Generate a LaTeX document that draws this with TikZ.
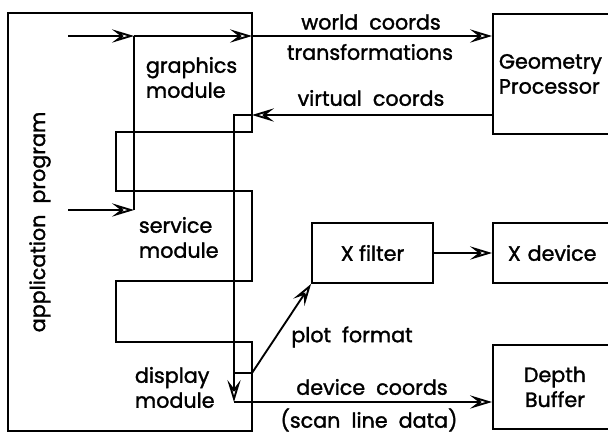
\documentclass[tikz,border=0pt]{standalone}
\usepackage{fontspec}
\setmainfont{Poppins}[FakeBold=1.5]
\usetikzlibrary{arrows.meta}
\tikzset{
  arrowtip/.tip={Stealth[open,length=16.5pt,width=10pt,inset=6.5pt,line width=1.4pt]},
  arr/.style={-arrowtip}
}
\begin{document}
\begin{tikzpicture}[x=0.75pt,y=-0.75pt,
  line width=1.4pt,
  txt/.style={font=\fontsize{15.5}{18.75}\selectfont, inner sep=0pt},
  box/.style={draw, line width=1.4pt, font=\fontsize{15.5}{18.75}\selectfont},
  modl/.style={txt, align=left, anchor=west}]
\clip (0,0) rectangle (608,433);
% application program outline
\coordinate (o1) at (252,13);
\coordinate (o2) at (8,13);
\coordinate (o3) at (8,431);
\coordinate (o4) at (252,431);
\coordinate (o5) at (252,342);
\coordinate (o6) at (116,342);
\coordinate (o7) at (116,281);
\coordinate (o8) at (252,281);
\coordinate (o9) at (252,191);
\coordinate (o10) at (116,191);
\coordinate (o11) at (116,132);
\coordinate (o12) at (252,132);
\draw (o1) -- (o2) -- (o3) -- (o4) -- (o5) -- (o6) -- (o7) -- (o8) -- (o9) -- (o10) -- (o11) -- (o12) -- cycle;
\node[txt, rotate=90] (app) at (40,222) {application\ \ program};
% inner line
\coordinate (i1) at (134,36);
\coordinate (i2) at (134,210);
\draw (i1) -- (i2);
% module labels
\node[modl] (gm) at (145,77.5) {graphics\\module};
\node[modl] (sm) at (138,237.5) {service\\module};
\node[modl] (dm) at (134,387.5) {display\\module};
% right boxes
\node[box, anchor=north west, minimum width=124*0.75pt, minimum height=120*0.75pt,
      text width=112*0.75pt, inner xsep=6*0.75pt, align=left] (gp) at (492,13) {Geometry\\Processor};
\node[box, minimum width=121*0.75pt, minimum height=60*0.75pt] (xf) at (372.5,253) {X filter};
\node[box, anchor=west, minimum width=124*0.75pt, minimum height=60*0.75pt,
      text width=105*0.75pt, inner xsep=15*0.75pt, align=left] (xd) at (492,253) {X device};
\node[box, anchor=north west, minimum width=124*0.75pt, minimum height=84*0.75pt, align=center] (db) at (492,344) {Depth\\Buffer};
% world coords connector
\coordinate (in1) at (68,36);
\coordinate (j2) at (252,36);
\draw[arr] (in1) -- (i1);
\draw[arr] (i1) -- (j2);
\draw[arr] (j2) -- (j2 -| gp.west);
% second input
\coordinate (in2) at (68,210);
\draw[arr] (in2) -- (i2);
% virtual coords connector
\coordinate (v1) at (252,115);
\coordinate (v2) at (234,115);
\coordinate (v3) at (234,402);
\draw[arr] (v1 -| gp.west) -- (v1);
\draw[arr] (v1) -- (v2) -- (v3);
\draw[arr] (v3) -- (v3 -| db.west);
% plot format connector
\coordinate (p1) at (234,373);
\coordinate (p2) at (252,373);
\draw[arr] (p1) -- (p2) -- (xf.south west);
% X filter to X device
\draw[arr] (xf.east) -- (xd.west);
% labels
\node[txt] (l1) at (371,22) {world\ \ coords};
\node[txt] (l2) at (370,52) {transformations};
\node[txt] (l3) at (371,98) {virtual\ \ coords};
\node[txt] (l4) at (352,337) {plot\ \ format};
\node[txt] (l5) at (372,387) {device\ \ coords};
\node[txt] (l6) at (369,420) {(scan\ \ line\ \ data)};
\end{tikzpicture}
\end{document}
